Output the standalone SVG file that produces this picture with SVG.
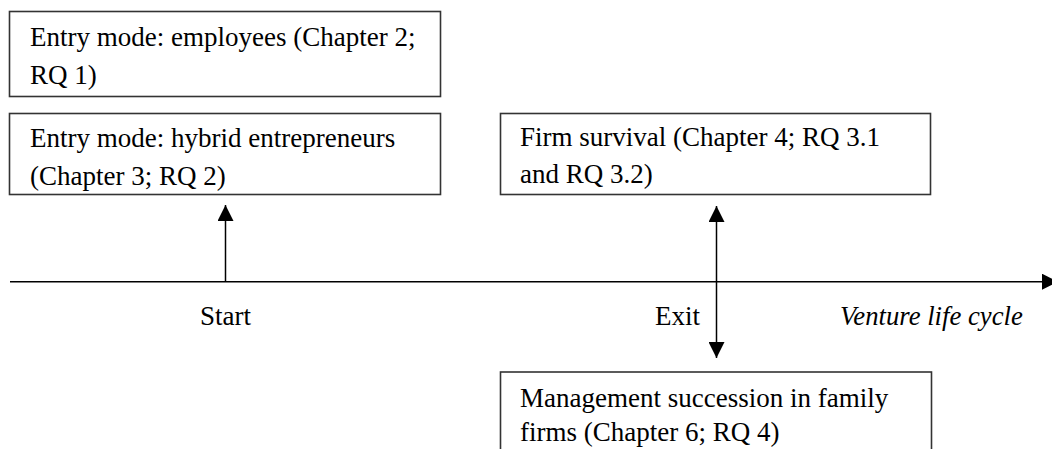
<svg xmlns="http://www.w3.org/2000/svg" width="1052" height="449" viewBox="0 0 1052 449">
<style>
.box{fill:#fff;stroke:#333;stroke-width:1.6}
.t{font-family:"Liberation Serif","Times New Roman",serif;font-size:27px;fill:#000}
.i{font-style:italic;font-size:26.7px}
.ln{stroke:#000;stroke-width:1.5;fill:none}
</style>
<defs>
<marker id="ahs" viewBox="0 0 16 16" refX="16" refY="8" markerWidth="16" markerHeight="16" markerUnits="userSpaceOnUse" orient="auto">
<path d="M0,0 L16,8 L0,16 Z" fill="#000"/>
</marker>
</defs>
<g id="box-employees">
<rect class="box" x="9.5" y="11.5" width="431" height="85"/>
<text class="t" x="30" y="46">Entry mode: employees (Chapter 2;</text>
<text class="t" x="30" y="84">RQ 1)</text>
</g>
<g id="box-hybrid">
<rect class="box" x="9.5" y="113.5" width="431" height="81"/>
<text class="t" x="30" y="147">Entry mode: hybrid entrepreneurs</text>
<text class="t" x="30" y="184.5">(Chapter 3; RQ 2)</text>
</g>
<g id="box-survival">
<rect class="box" x="500.5" y="113.5" width="430" height="81"/>
<text class="t" x="520" y="146">Firm survival (Chapter 4; RQ 3.1</text>
<text class="t" x="520" y="183">and RQ 3.2)</text>
</g>
<g id="box-succession">
<rect class="box" x="500.5" y="372" width="431" height="100"/>
<text class="t" x="520" y="407">Management succession in family</text>
<text class="t" x="520" y="441">firms (Chapter 6; RQ 4)</text>
</g>
<g id="labels">
<text class="t" x="200" y="325">Start</text>
<text class="t" x="655" y="325">Exit</text>
<text class="t i" x="840" y="325">Venture life cycle</text>
</g>
<g id="connectors">
<line class="ln" x1="10" y1="281.7" x2="1058" y2="281.7" marker-end="url(#ahs)"/>
<line class="ln" x1="225.5" y1="281.7" x2="225.5" y2="205" marker-end="url(#ahs)"/>
<line class="ln" x1="716.5" y1="281.7" x2="716.5" y2="206" marker-end="url(#ahs)"/>
<line class="ln" x1="716.5" y1="281.7" x2="716.5" y2="358" marker-end="url(#ahs)"/>
</g>
</svg>
